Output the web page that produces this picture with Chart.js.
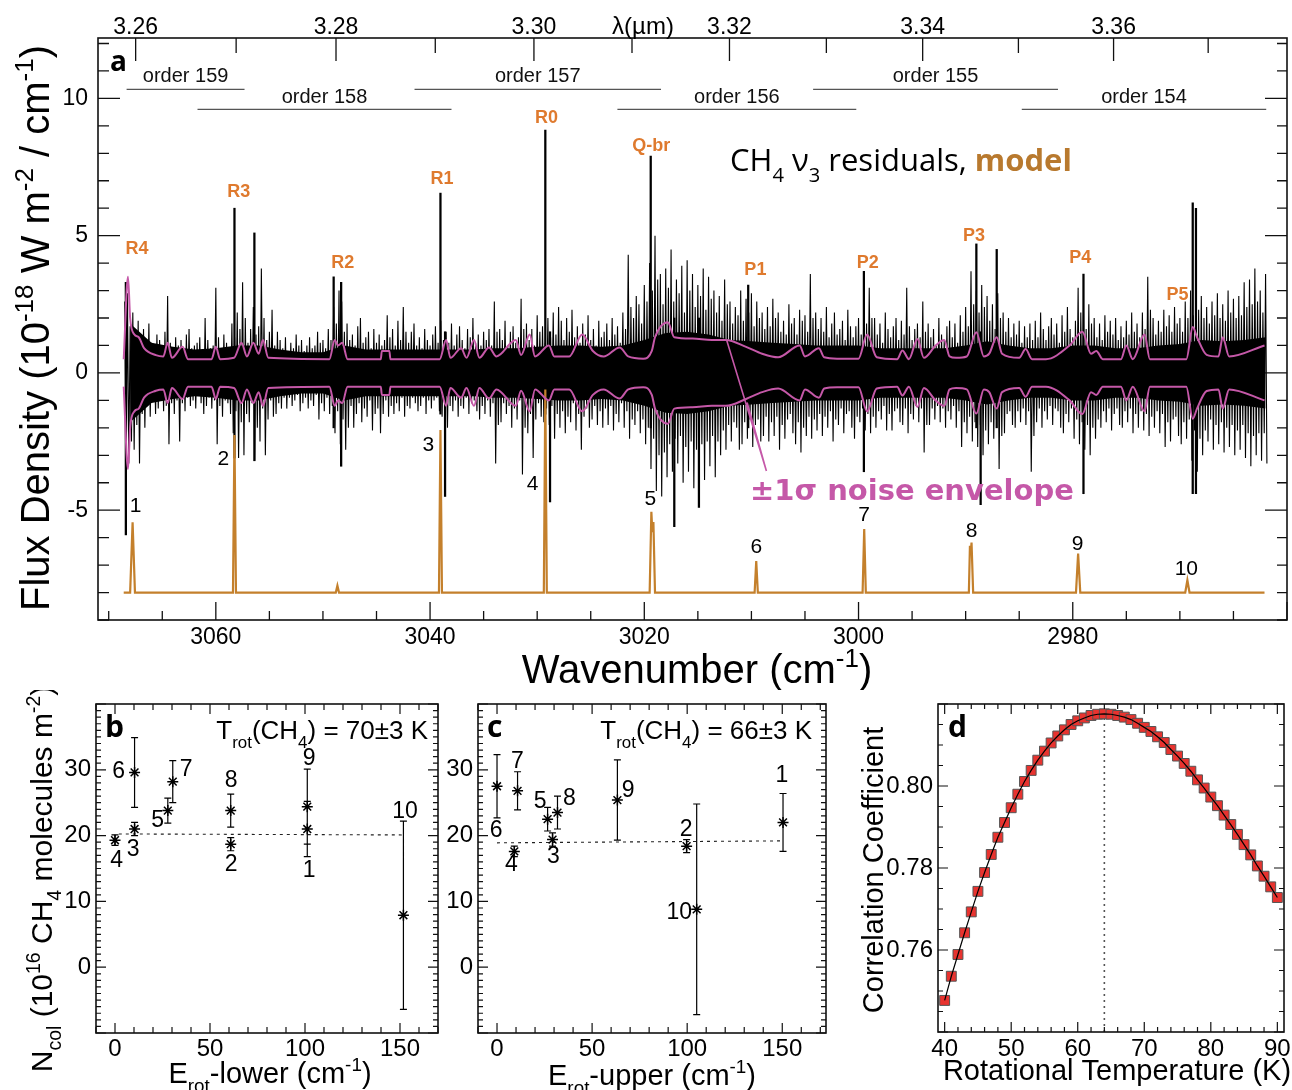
<!DOCTYPE html>
<html>
<head>
<meta charset="utf-8">
<script src="https://cdn.jsdelivr.net/npm/chart.js@4.4.1/dist/chart.umd.min.js"></script>
<style>
html, body { margin: 0; padding: 0; background: #fff; }
#wrap { position: relative; width: 1292px; height: 1090px; overflow: hidden; }
#wrap canvas { position: absolute; }
</style>
</head>
<body>
<div id="wrap">
  <canvas id="specChart" width="1292" height="690" style="left:0px;top:0px"></canvas>
  <canvas id="lowerChart" width="445" height="400" style="left:0px;top:690px"></canvas>
  <canvas id="upperChart" width="400" height="400" style="left:445px;top:690px"></canvas>
  <canvas id="corrChart" width="447" height="400" style="left:845px;top:690px"></canvas>
</div>
<script>
// ---- panel a: residual spectrum (cm-1, 1e-18 W m-2 / cm-1) ----
// residual max / min in 0.25 cm-1 bins, first bin at 3068.5, one row = 5 cm-1
const bandStart = 3068.5, bandStep = 0.25;
const residHi = [
  2.6, 2.9, 1.7, 2.2, 1.4, 1.9, 1.3, 1.6, 1.0, 1.8, 1.1, 0.9, 1.4, 1.2, 0.8, 1.5, 2.8, 1.1, 0.9, 1.3,
  1.0, 1.2, 0.8, 1.4, 1.6, 0.9, 1.0, 1.1, 1.3, 0.8, 2.0, 1.2, 0.9, 1.0, 3.1, 1.3, 0.9, 1.4, 1.1, 0.9,
  1.8, 1.3, 2.2, 1.6, 3.3, 2.0, 1.1, 1.6, 2.4, 1.4, 1.7, 3.8, 2.0, 1.2, 1.5, 2.3, 1.0, 1.5, 1.2, 0.9,
  1.3, 0.8, 1.1, 0.9, 1.4, 1.0, 1.2, 0.8, 1.0, 1.3, 0.9, 1.0, 1.5, 1.1, 1.2, 0.9, 1.6, 1.2, 2.4, 1.8,
  3.0, 2.6, 1.5, 1.8, 1.2, 1.4, 1.0, 1.7, 2.0, 1.1, 1.3, 1.5, 0.9, 1.6, 1.1, 1.4, 1.0, 1.2, 2.1, 1.3,
  1.6, 1.0, 1.9, 1.2, 2.4, 1.5, 1.1, 1.5, 1.8, 1.0, 1.3, 0.9, 1.6, 1.2, 1.0, 1.4, 1.7, 1.1, 1.9, 1.2,
  1.5, 1.1, 1.8, 1.0, 1.4, 1.7, 1.2, 0.9, 1.6, 1.3, 2.0, 1.1, 1.4, 1.0, 1.5, 1.2, 1.6, 1.0, 2.6, 1.5,
  1.6, 1.2, 1.9, 1.0, 1.5, 1.7, 1.1, 1.3, 2.7, 1.6, 1.8, 1.2, 1.6, 1.0, 2.1, 1.5, 1.7, 1.1, 2.0, 1.3,
  2.2, 1.4, 2.4, 1.9, 1.2, 2.0, 1.5, 2.3, 1.3, 1.7, 1.1, 1.8, 1.4, 2.1, 1.2, 1.6, 1.0, 1.9, 1.3, 1.5,
  1.8, 1.2, 2.0, 1.4, 1.7, 1.1, 2.2, 1.6, 4.3, 2.4, 2.0, 2.8, 2.5, 1.8, 3.2, 2.6, 4.0, 3.0, 5.0, 3.4,
  3.6, 2.5, 3.8, 3.1, 4.5, 2.6, 3.4, 2.9, 3.9, 2.2, 4.1, 3.0, 3.6, 2.4, 3.2, 2.8, 3.8, 2.3, 3.5, 2.7,
  3.0, 2.2, 2.8, 1.9, 3.4, 2.5, 2.6, 1.8, 2.4, 2.1, 3.0, 1.9, 2.7, 2.2, 2.9, 1.7, 2.6, 2.0, 2.2, 1.6,
  2.4, 1.7, 2.7, 2.0, 2.2, 1.5, 1.9, 1.4, 2.5, 1.8, 2.0, 1.4, 2.3, 1.9, 2.1, 1.5, 3.6, 2.0, 2.2, 1.6,
  2.0, 1.5, 2.4, 1.3, 1.8, 2.2, 1.4, 1.6, 1.9, 1.2, 2.3, 1.7, 1.3, 1.7, 2.0, 1.4, 2.6, 1.8, 3.1, 2.0,
  2.0, 1.4, 1.8, 1.1, 2.2, 1.6, 1.3, 1.7, 2.0, 1.2, 1.9, 1.4, 3.1, 1.7, 1.2, 1.6, 1.8, 1.3, 2.6, 1.5,
  1.8, 1.3, 1.6, 1.0, 2.0, 1.4, 1.2, 1.7, 1.9, 1.3, 1.8, 1.1, 2.1, 1.5, 2.4, 1.7, 3.7, 2.5, 3.0, 2.2,
  3.2, 2.4, 2.8, 1.9, 2.5, 1.6, 2.9, 2.0, 2.2, 1.5, 2.0, 1.3, 1.8, 1.4, 1.9, 1.1, 1.7, 1.3, 1.8, 1.2,
  1.9, 1.3, 2.2, 1.6, 1.2, 1.7, 2.0, 1.4, 1.8, 1.1, 2.1, 1.5, 2.4, 1.6, 1.3, 1.9, 3.1, 2.2, 2.3, 1.6,
  2.5, 1.8, 2.0, 1.3, 1.8, 1.2, 2.1, 1.5, 1.9, 1.4, 2.0, 1.2, 1.7, 1.3, 1.9, 1.4, 2.2, 1.5, 1.8, 1.3,
  2.2, 1.6, 3.5, 2.3, 2.0, 1.4, 1.9, 1.5, 2.3, 1.7, 2.1, 1.5, 2.4, 1.8, 2.0, 1.5, 2.6, 2.0, 3.0, 2.1,
  3.2, 2.3, 2.8, 2.0, 2.4, 1.8, 2.6, 2.1, 2.9, 2.0, 2.5, 1.9, 3.0, 2.2, 2.7, 2.0, 2.8, 2.1, 3.3, 2.4,
  3.4, 2.5, 3.8, 2.6, 3.0, 2.2, 3.6
];
const residLo = [
  -4.0, -3.3, -2.5, -2.8, -1.9, -3.3, -1.5, -2.0, -1.2, -1.6, -1.0, -1.5, -1.3, -0.9, -1.4, -1.2, -2.6, -1.1, -1.5, -1.0,
  -2.5, -1.1, -1.4, -0.9, -1.2, -1.0, -1.3, -0.8, -1.1, -1.5, -1.2, -0.9, -1.3, -1.0, -2.6, -1.2, -1.6, -1.0, -1.1, -1.5,
  -2.2, -1.4, -3.1, -1.8, -3.0, -1.5, -1.8, -1.1, -3.2, -2.0, -2.5, -1.3, -3.0, -1.7, -1.0, -1.6, -1.5, -1.1, -1.3, -0.9,
  -1.3, -0.9, -1.2, -1.0, -0.8, -1.4, -1.1, -0.9, -1.3, -1.0, -1.2, -0.8, -1.7, -1.1, -1.4, -0.9, -1.5, -1.2, -2.2, -1.4,
  -2.6, -1.7, -2.8, -2.0, -1.2, -2.0, -1.5, -1.1, -1.8, -1.3, -1.6, -1.0, -2.1, -1.5, -1.3, -2.2, -1.5, -1.0, -1.6, -1.2,
  -1.5, -1.1, -1.4, -0.9, -1.6, -1.2, -1.3, -0.9, -1.1, -1.4, -1.2, -0.9, -1.5, -1.0, -1.3, -1.0, -0.9, -1.4, -1.6, -1.2,
  -2.0, -1.2, -1.4, -1.0, -1.6, -1.2, -1.3, -0.9, -1.5, -1.1, -1.0, -1.4, -1.7, -1.2, -1.5, -1.0, -1.6, -1.1, -3.3, -1.9,
  -1.8, -1.1, -1.5, -1.2, -2.0, -1.3, -1.7, -1.0, -3.7, -2.0, -2.2, -1.5, -3.1, -1.7, -1.1, -1.6, -1.8, -1.3, -1.9, -1.2,
  -2.4, -1.5, -2.0, -1.4, -2.2, -1.6, -1.8, -1.1, -2.1, -1.5, -2.8, -1.6, -1.3, -2.0, -1.7, -1.2, -1.9, -1.4, -2.0, -1.3,
  -1.9, -1.2, -2.1, -1.5, -1.8, -1.1, -2.0, -1.4, -2.4, -1.7, -1.9, -1.4, -2.2, -1.7, -2.6, -2.0, -3.5, -2.4, -4.3, -3.0,
  -4.5, -2.9, -3.8, -2.6, -3.6, -2.4, -3.3, -2.3, -4.0, -2.7, -3.6, -2.5, -4.2, -2.8, -3.7, -2.6, -3.9, -2.5, -3.4, -2.3,
  -3.8, -2.5, -3.0, -2.1, -2.8, -1.9, -2.5, -1.8, -2.0, -2.8, -2.6, -1.8, -2.4, -1.7, -2.7, -1.9, -1.7, -2.5, -2.3, -1.6,
  -2.5, -1.8, -2.3, -1.6, -2.8, -1.9, -2.4, -1.7, -1.5, -2.2, -2.6, -1.8, -2.9, -2.0, -2.3, -1.6, -2.4, -1.7, -2.1, -1.5,
  -2.3, -1.6, -2.0, -1.4, -2.5, -1.7, -1.9, -1.3, -2.2, -1.5, -1.4, -2.0, -2.4, -1.6, -1.8, -1.3, -2.1, -1.5, -2.2, -1.6,
  -2.0, -1.4, -1.7, -1.2, -2.1, -1.5, -2.1, -1.4, -1.3, -1.8, -1.9, -1.3, -2.2, -1.5, -1.7, -1.2, -1.8, -1.3, -2.9, -1.9,
  -1.9, -1.3, -1.7, -1.2, -1.8, -1.3, -2.0, -1.4, -1.7, -1.2, -2.0, -1.4, -2.7, -1.8, -2.2, -1.6, -2.5, -1.8, -2.7, -1.9,
  -3.0, -2.1, -2.6, -1.8, -2.4, -1.7, -3.5, -2.3, -2.2, -1.5, -1.4, -1.9, -2.0, -1.4, -1.8, -1.3, -1.9, -1.4, -3.6, -2.3,
  -1.8, -1.3, -2.0, -1.4, -1.7, -1.2, -1.9, -1.3, -1.4, -2.0, -2.2, -1.5, -1.8, -1.3, -2.4, -1.7, -2.6, -1.8, -2.8, -1.9,
  -3.0, -2.0, -2.4, -1.7, -2.0, -1.4, -1.8, -1.3, -2.1, -1.5, -1.3, -1.9, -2.0, -1.4, -1.8, -1.3, -2.2, -1.5, -2.0, -1.4,
  -2.1, -1.5, -2.3, -1.6, -2.0, -1.4, -2.2, -1.5, -2.7, -1.8, -2.5, -1.7, -1.6, -2.3, -2.6, -1.8, -2.4, -1.7, -3.2, -2.1,
  -3.6, -2.4, -3.0, -2.1, -2.5, -1.7, -2.8, -1.9, -2.6, -1.8, -2.9, -2.0, -2.7, -1.9, -3.0, -2.1, -2.8, -1.9, -3.1, -2.2,
  -3.4, -2.3, -3.0, -2.2, -3.2, -2.2, -3.3
];
// solid core of the noise band, half width every 2 cm-1 from 3068
const coreStart = 3068, coreStep = 2;
const coreAmp = [
  1.8, 1.1, 0.95, 0.85, 0.9, 1.0, 1.0, 0.85, 0.75, 0.75,
  1.0, 0.85, 0.85, 0.85, 0.85, 0.85, 0.85, 0.9, 0.9, 0.95,
  1.0, 1.0, 0.95, 1.0, 1.2, 1.45, 1.5, 1.4, 1.2, 1.15,
  1.1, 1.05, 1.0, 1.0, 1.0, 0.9, 0.9, 0.9, 0.9, 1.0,
  1.15, 1.0, 0.9, 0.9, 1.0, 1.0, 0.9, 0.9, 1.0, 1.05,
  1.2, 1.15, 1.2, 1.3
];
// single tall residual spikes
const spikeNu = [3068.4, 3058.26, 3056.4, 3049.0, 3048.3, 3039.03, 3038.6, 3029.24, 3028.8, 3019.4,
  3017.2, 3014.9, 3010.3, 2999.5, 2989.0, 2988.6, 2987.1, 2979.0, 2968.8, 2968.5];
const spikeHi = [3.3, 6.0, 5.1, 3.5, 3.3, 6.55, 1.5, 8.85, 1.5, 7.9,
  2.0, 2.0, 3.2, 3.7, 4.7, 1.5, 4.5, 3.6, 6.2, 6.0];
const spikeLo = [-5.9, -3.1, -3.2, -2.0, -3.4, -1.5, -4.5, -1.5, -4.7, -2.0,
  -5.6, -4.9, -2.0, -3.6, -2.0, -4.8, -2.0, -4.4, -4.4, -4.4];
// 1 sigma noise envelope [wavenumber, sigma]
const envelope = [
  [3068.6, 0.5], [3068.2, 3.5], [3068.0, 2.0], [3067.6, 1.4], [3067.2, 1.3], [3066.7, 0.9],
  [3065.6, 0.65], [3064.9, 0.6], [3064.5, 1.1], [3064.1, 0.55], [3063.1, 0.95], [3062.6, 0.5],
  [3060.4, 0.5], [3060.0, 0.95], [3059.6, 0.5], [3058.3, 0.55], [3057.6, 1.1], [3057.1, 0.6],
  [3056.5, 1.1], [3056.0, 0.7], [3055.6, 1.2], [3055.1, 0.55], [3049.4, 0.5], [3048.9, 1.2],
  [3048.6, 1.0], [3048.2, 1.1], [3047.7, 0.5], [3044.6, 0.5], [3044.5, 0.8], [3043.8, 0.8],
  [3043.7, 0.5], [3039.1, 0.5], [3038.5, 1.2], [3038.1, 0.55], [3037.1, 0.9], [3036.6, 0.55],
  [3035.9, 1.2], [3035.4, 0.55], [3034.5, 0.93], [3033.8, 0.6], [3032.0, 1.2], [3031.5, 0.65],
  [3030.7, 1.4], [3030.2, 0.6], [3028.9, 1.0], [3028.4, 0.6], [3027.0, 0.6], [3025.8, 1.4],
  [3024.8, 0.8], [3023.8, 0.6], [3022.3, 0.93], [3021.5, 0.6], [3020.1, 0.52], [3019.3, 0.8],
  [3019.0, 1.3], [3017.8, 1.85], [3017.2, 1.3], [3015.5, 1.25], [3013.7, 1.2], [3012.4, 1.2],
  [3010.5, 0.95], [3009.0, 0.7], [3007.5, 0.57], [3005.5, 1.0], [3005.0, 0.6], [3003.7, 0.9],
  [3003.2, 0.57], [3002.0, 0.52], [3000.0, 0.52], [2999.2, 1.4], [2998.3, 0.57], [2996.4, 0.5],
  [2995.9, 0.82], [2995.3, 0.5], [2994.5, 1.24], [2993.9, 0.55], [2992.8, 1.0], [2992.0, 1.2],
  [2991.5, 0.6], [2990.9, 0.55], [2989.9, 0.6], [2989.0, 1.48], [2988.3, 0.6], [2987.8, 0.7],
  [2987.1, 1.3], [2986.6, 0.7], [2985.0, 0.55], [2984.4, 0.87], [2983.8, 0.5], [2982.5, 0.5],
  [2980.3, 1.0], [2979.1, 1.5], [2978.3, 0.7], [2977.8, 0.8], [2977.2, 0.5], [2975.5, 0.5],
  [2975.0, 1.0], [2974.4, 0.5], [2973.3, 1.4], [2972.8, 0.5], [2969.4, 0.5], [2968.8, 1.67],
  [2968.4, 1.3], [2967.5, 0.66], [2966.4, 0.6], [2966.0, 1.3], [2965.4, 0.6], [2962.1, 1.0]
];
// CH4 model, offset to -8 [wavenumber, flux]
const model = [
  [3068.6, -8], [3068.0, -8], [3067.77, -5.44], [3067.55, -8], [3058.4, -8], [3058.26, -2.26],
  [3058.12, -8], [3048.8, -8], [3048.65, -7.75], [3048.5, -8], [3039.17, -8], [3039.03, -2.08],
  [3038.89, -8], [3029.38, -8], [3029.24, -0.6], [3029.1, -8], [3019.5, -8], [3019.34, -5.06],
  [3019.25, -5.8], [3019.15, -5.43], [3019.0, -8], [3009.7, -8], [3009.55, -6.85], [3009.4, -8],
  [2999.62, -8], [2999.47, -5.69], [2999.32, -8], [2989.7, -8], [2989.6, -6.3], [2989.53, -6.6],
  [2989.45, -6.18], [2989.3, -8], [2979.7, -8], [2979.5, -6.58], [2979.3, -8], [2969.5, -8],
  [2969.3, -7.55], [2969.1, -8], [2962.1, -8]
];
const lineNames = ['R4', 'R3', 'R2', 'R1', 'R0', 'Q-br', 'P1', 'P2', 'P3', 'P4', 'P5'];
const lineNu = [3067.35, 3057.86, 3048.16, 3038.88, 3029.14, 3019.36, 3009.63, 2999.15, 2989.22, 2979.3, 2970.22];
const lineLabelY = [4.53, 6.58, 4.02, 7.05, 9.27, 8.25, 3.73, 4.02, 5.0, 4.2, 2.82];
const peakNames = ['1', '2', '3', '4', '5', '6', '7', '8', '9', '10'];
const peakNu = [3067.5, 3059.3, 3040.15, 3030.44, 3019.43, 3009.54, 2999.49, 2989.45, 2979.55, 2969.4];
const peakLabelY = [-4.87, -3.15, -2.62, -4.05, -4.6, -6.36, -5.17, -5.75, -6.24, -7.15];
const orderNames = ['order 159', 'order 158', 'order 157', 'order 156', 'order 155', 'order 154'];
const orderFrom = [3068.33, 3061.71, 3041.45, 3022.51, 3004.24, 2984.76];
const orderTo = [3057.32, 3038.0, 3018.44, 3000.21, 2981.38, 2961.94];
const orderRow = [0, 1, 0, 1, 0, 1];
const waveTicks = [3060, 3040, 3020, 3000, 2980];
const fluxTicks = [-5, 0, 5, 10];
const lambdaTicks = ['3.26', '3.28', '3.30', '3.32', '3.34', '3.36'];
const lambdaMinor = ['3.27', '3.29', '3.31', '3.33', '3.35', '3.37'];

// ---- panels b, c: column density per line ----
const lineIds = ['1', '2', '3', '4', '5', '6', '7', '8', '9', '10'];
const eLower = [101.2, 60.9, 10.3, 0, 27.8, 10.3, 30.4, 60.9, 101.2, 151.8];
const nLower = [21.0, 18.7, 21.0, 19.3, 23.8, 29.6, 28.2, 23.8, 24.4, 7.9];
const nLowerErr = [4.2, 1.0, 1.0, 0.8, 1.9, 5.3, 3.2, 2.5, 5.7, 14.3];
const lowerLabelAt = [[102.2, 14.6], [61.1, 15.6], [9.6, 17.9], [0.9, 16.2], [22.5, 22.2],
  [1.9, 29.7], [37.4, 30.0], [61.1, 28.3], [102.2, 31.7], [152.6, 23.7]];
const lowerFit = [[2, 20.25], [152, 20.1]];
const eUpper = [150.4, 99.7, 29.2, 9.1, 26.6, 0, 10.8, 31.8, 63.3, 105.0];
const nUpper = [22.0, 18.4, 19.4, 17.6, 22.5, 27.5, 26.8, 23.5, 25.4, 8.8];
const nUpperErr = [4.4, 1.0, 1.0, 0.8, 1.8, 4.8, 2.9, 2.5, 6.1, 16.0];
const upperLabelAt = [[149.8, 29.1], [99.4, 20.9], [29.6, 16.8], [7.5, 15.6], [22.7, 25.1],
  [-0.4, 20.7], [10.7, 31.3], [38, 25.6], [69, 26.9], [95.8, 8.3]];
const upperFit = [[0, 18.9], [150.4, 19.2]];
const energyTicks = [0, 50, 100, 150];
const nColTicks = [0, 10, 20, 30];

// ---- panel d: correlation vs rotational temperature ----
const rotTemp = [40, 41, 42, 43, 44, 45, 46, 47, 48, 49, 50, 51, 52, 53, 54, 55, 56, 57, 58, 59,
  60, 61, 62, 63, 64, 65, 66, 67, 68, 69, 70, 71, 72, 73, 74, 75, 76, 77, 78, 79,
  80, 81, 82, 83, 84, 85, 86, 87, 88, 89, 90];
const corrCoef = [0.7477, 0.7536, 0.7589, 0.7642, 0.7693, 0.7743, 0.7789, 0.7833, 0.7875, 0.7911,
  0.7947, 0.7980, 0.8011, 0.8038, 0.8063, 0.8085, 0.8105, 0.8122, 0.8137, 0.8150,
  0.8159, 0.8166, 0.8172, 0.8175, 0.8176, 0.8175, 0.8172, 0.8168, 0.8162, 0.8153,
  0.8143, 0.8133, 0.8120, 0.8106, 0.8089, 0.8073, 0.8055, 0.8036, 0.8015, 0.7995,
  0.7973, 0.7952, 0.7929, 0.7906, 0.7882, 0.7857, 0.7832, 0.7805, 0.7780, 0.7754, 0.7728];
const bestTemp = 64;
const tempTicks = [40, 50, 60, 70, 80, 90];
const corrTicks = [0.76, 0.78, 0.80];

const SANS = "'Liberation Sans', Arial, sans-serif";
const HUMAN = "'Open Sans', 'DejaVu Sans', sans-serif";
const WIDE = "'DejaVu Sans', sans-serif";
const NARROW = "'Liberation Sans Narrow', 'Liberation Sans', sans-serif";
const ORANGE = '#c4802c', LABEL_ORANGE = '#df7a2e', MODEL_TXT = '#b8792e', MAGENTA = '#c558a8';

function fixBox(w, h) {
  return function (scale) {
    if (w !== null) scale.width = w;
    if (h !== null) scale.height = h;
    scale.paddingLeft = scale.paddingRight = scale.paddingTop = scale.paddingBottom = 0;
  };
}

function axisOpts(min, max, vals, w, h, pad, size, fmt) {
  return {
    type: 'linear', min: min, max: max, offset: false,
    grid: { display: false, drawTicks: false }, border: { display: false },
    afterBuildTicks: s => { s.ticks = vals.map(v => ({ value: v })); },
    afterFit: fixBox(w, h),
    ticks: { font: { family: SANS, size: size }, color: '#000', padding: pad, autoSkip: false,
      maxRotation: 0, callback: fmt || (v => String(v)) }
  };
}

function tickSet(lo, hi, step, majorStep) {
  const out = [];
  for (let k = Math.ceil(lo / step - 1e-9); k * step <= hi + 1e-9; k++) {
    const v = +(k * step).toFixed(6);
    const r = v / majorStep;
    out.push([v, Math.abs(r - Math.round(r)) < 1e-6]);
  }
  return out;
}

function drawFrame(chart, o) {
  const { ctx, chartArea: a } = chart;
  const sx = chart.scales.x, sy = chart.scales.y;
  ctx.save();
  ctx.strokeStyle = '#111';
  ctx.lineWidth = o.lw;
  ctx.beginPath();
  o.xt.forEach(([v, maj]) => {
    const p = sx.getPixelForValue(v);
    const len = maj ? o.xMaj : o.xMin;
    ctx.moveTo(p, a.bottom); ctx.lineTo(p, a.bottom - len);
    if (o.xTop) { ctx.moveTo(p, a.top); ctx.lineTo(p, a.top + len); }
  });
  o.yt.forEach(([v, maj]) => {
    const p = sy.getPixelForValue(v);
    ctx.moveTo(a.left, p); ctx.lineTo(a.left + (maj ? o.yMaj : o.yMin), p);
    ctx.moveTo(a.right, p); ctx.lineTo(a.right - (maj ? o.yMajR : o.yMinR), p);
  });
  ctx.stroke();
  ctx.lineWidth = o.frame;
  ctx.strokeRect(a.left, a.top, a.right - a.left, a.bottom - a.top);
  ctx.restore();
}

// text with sub/superscripts: parts = [[text, '' | '^' | '_', color, bold]]
function rich(ctx, parts, x, y, o) {
  const size = o.size, fam = o.family || SANS;
  const sc = o.subScale || 0.65;
  const segs = parts.map(p => {
    const s = p[1] ? size * sc : size;
    const f = ((o.bold || p[3]) ? 'bold ' : '') + s + 'px ' + fam;
    ctx.font = f;
    return { t: p[0], k: p[1] || '', c: p[2], f: f, w: ctx.measureText(p[0]).width };
  });
  const total = segs.reduce((acc, g) => acc + g.w, 0);
  ctx.save();
  ctx.translate(x, y);
  if (o.rotate) ctx.rotate(-Math.PI / 2);
  ctx.textAlign = 'left';
  ctx.textBaseline = 'alphabetic';
  let cx = o.align === 'left' ? 0 : o.align === 'right' ? -total : -total / 2;
  segs.forEach(g => {
    ctx.font = g.f;
    ctx.fillStyle = g.c || o.color || '#000';
    const dy = g.k === '^' ? -size * (o.supRise || 0.4) : g.k === '_' ? size * (o.subDrop || 0.3) : 0;
    ctx.fillText(g.t, cx, dy);
    cx += g.w;
  });
  ctx.restore();
}

const common = {
  responsive: false, animation: false, devicePixelRatio: 1, events: [],
  plugins: { legend: { display: false }, tooltip: { enabled: false } }
};

// ---------------- panel a ----------------
const spectrumDecor = {
  id: 'spectrumDecor',
  afterDraw(chart) {
    const { ctx, chartArea: a, scales: { x, y } } = chart;
    drawFrame(chart, { lw: 1.3, frame: 1.6, xt: tickSet(2960, 3071, 5, 20), xMaj: 18, xMin: 9, xTop: false,
      yt: tickSet(-9, 12.2, 1, 5), yMaj: 22, yMin: 11, yMajR: 22, yMinR: 10 });
    ctx.save();
    ctx.strokeStyle = '#111';
    ctx.lineWidth = 1.3;
    ctx.beginPath();
    lambdaTicks.forEach(l => { const p = x.getPixelForValue(10000 / parseFloat(l)); ctx.moveTo(p, a.top); ctx.lineTo(p, a.top + 23); });
    lambdaMinor.forEach(l => { const p = x.getPixelForValue(10000 / parseFloat(l)); ctx.moveTo(p, a.top); ctx.lineTo(p, a.top + 15); });
    ctx.stroke();

    // echelle orders
    const rowLine = [10.33, 9.6], rowText = [10.6, 9.84];
    ctx.strokeStyle = '#555';
    ctx.lineWidth = 1.4;
    ctx.font = '20px ' + SANS;
    ctx.fillStyle = '#111';
    ctx.textAlign = 'center';
    ctx.textBaseline = 'alphabetic';
    orderNames.forEach((nm, i) => {
      const x0 = x.getPixelForValue(orderFrom[i]), x1 = x.getPixelForValue(orderTo[i]);
      const ly = y.getPixelForValue(rowLine[orderRow[i]]);
      ctx.beginPath(); ctx.moveTo(x0, ly); ctx.lineTo(x1, ly); ctx.stroke();
      ctx.fillText(nm, (x0 + x1) / 2, y.getPixelForValue(rowText[orderRow[i]]));
    });

    // line identifications
    ctx.textBaseline = 'middle';
    ctx.font = 'bold 18px ' + NARROW;
    ctx.fillStyle = LABEL_ORANGE;
    lineNames.forEach((nm, i) => ctx.fillText(nm, x.getPixelForValue(lineNu[i]), y.getPixelForValue(lineLabelY[i])));
    ctx.font = '21px ' + SANS;
    ctx.fillStyle = '#000';
    peakNames.forEach((nm, i) => ctx.fillText(nm, x.getPixelForValue(peakNu[i]), y.getPixelForValue(peakLabelY[i])));

    // leader lines for the envelope label
    ctx.strokeStyle = MAGENTA;
    ctx.lineWidth = 1.6;
    ctx.beginPath();
    const fx = x.getPixelForValue(3008.6), fy = y.getPixelForValue(-3.57);
    ctx.moveTo(fx, fy); ctx.lineTo(x.getPixelForValue(3012.3), y.getPixelForValue(1.18));
    ctx.moveTo(fx, fy); ctx.lineTo(x.getPixelForValue(3010.4), y.getPixelForValue(-1.08));
    ctx.stroke();
    ctx.restore();

    rich(ctx, [['±1σ noise envelope']], 750, 500, { size: 29, family: WIDE, bold: true, color: MAGENTA, align: 'left' });
    rich(ctx, [['CH'], ['4', '_'], [' ν'], ['3', '_'], [' residuals, '], ['model', '', MODEL_TXT, true]], 730, 171,
      { size: 31, family: HUMAN, align: 'left', subDrop: 0.36 });
    rich(ctx, [['a']], 110, 71, { size: 28, family: HUMAN, bold: true, align: 'left' });
    rich(ctx, [['λ(µm)']], 643, 34, { size: 24 });
    rich(ctx, [['Flux Density (10'], ['-18', '^'], [' W m'], ['-2', '^'], [' / cm'], ['-1', '^'], [')']], 49, 328,
      { size: 40, rotate: true });
    rich(ctx, [['Wavenumber (cm'], ['-1', '^'], [')']], 697, 683, { size: 40 });
  }
};

// residual trace: each bin's maximum then its minimum
const residTrace = [];
residHi.forEach((h, i) => {
  const nu = bandStart - i * bandStep;
  residTrace.push({ x: nu, y: h }, { x: nu - bandStep / 2, y: residLo[i] });
});

new Chart(document.getElementById('specChart'), {
  type: 'line',
  data: {
    datasets: [
      { data: envelope.map(p => ({ x: p[0], y: p[1] })), borderColor: MAGENTA, borderWidth: 2, pointRadius: 0,
        cubicInterpolationMode: 'monotone', order: 1 },
      { data: envelope.map(p => ({ x: p[0], y: -p[1] })), borderColor: MAGENTA, borderWidth: 2, pointRadius: 0,
        cubicInterpolationMode: 'monotone', order: 1 },
      { data: model.map(p => ({ x: p[0], y: p[1] })), borderColor: ORANGE, borderWidth: 2.2, pointRadius: 0, order: 2 },
      { type: 'bar', data: spikeNu.map((v, i) => ({ x: v, y: [spikeLo[i], spikeHi[i]] })),
        backgroundColor: '#000', barThickness: 1.6, order: 3 },
      { data: residTrace, borderColor: '#000', borderWidth: 1.1, pointRadius: 0, order: 4 },
      { data: coreAmp.map((v, i) => ({ x: coreStart - i * coreStep, y: v })), borderWidth: 0, pointRadius: 0,
        fill: false, order: 6 },
      { data: coreAmp.map((v, i) => ({ x: coreStart - i * coreStep, y: -v })), borderWidth: 0, pointRadius: 0,
        fill: '-1', backgroundColor: '#000', order: 5 }
    ]
  },
  options: Object.assign({}, common, {
    layout: { padding: { left: 0, right: 5, top: 0, bottom: 0 } },
    scales: {
      x: Object.assign(axisOpts(2960, 3071, waveTicks, null, 70, 4, 23), { position: 'bottom', reverse: true }),
      xTop: {
        type: 'linear', position: 'top', min: 2960, max: 3071, reverse: true, offset: false,
        grid: { display: false, drawTicks: false }, border: { display: false },
        afterBuildTicks: s => { s.ticks = lambdaTicks.map(l => ({ value: 10000 / parseFloat(l) })); },
        afterFit: fixBox(null, 38),
        ticks: { font: { family: SANS, size: 23 }, color: '#000', padding: -3, autoSkip: false, maxRotation: 0,
          callback: (v, i) => lambdaTicks[i] }
      },
      y: axisOpts(-9, 12.2, fluxTicks, 98, null, 10, 23)
    }
  }),
  plugins: [spectrumDecor]
});

// ---------------- panels b and c ----------------
function energyPanel(canvasId, origin, xs, ys, errs, labelAt, fit, xMax, axisW, padRight, texts) {
  const decor = {
    id: 'energyDecor',
    afterDatasetsDraw(chart) {
      const { ctx, scales: { x, y } } = chart;
      ctx.save();
      ctx.strokeStyle = '#000';
      ctx.lineWidth = 1.2;
      ctx.beginPath();
      xs.forEach((v, i) => {
        const px = x.getPixelForValue(v);
        const t = y.getPixelForValue(ys[i] + errs[i]), b = y.getPixelForValue(ys[i] - errs[i]);
        ctx.moveTo(px, t); ctx.lineTo(px, b);
        ctx.moveTo(px - 3.5, t); ctx.lineTo(px + 3.5, t);
        ctx.moveTo(px - 3.5, b); ctx.lineTo(px + 3.5, b);
      });
      ctx.stroke();
      ctx.font = '23px ' + SANS;
      ctx.fillStyle = '#000';
      ctx.textAlign = 'center';
      ctx.textBaseline = 'middle';
      lineIds.forEach((nm, i) => ctx.fillText(nm, x.getPixelForValue(labelAt[i][0]), y.getPixelForValue(labelAt[i][1])));
      ctx.restore();
    },
    afterDraw(chart) {
      drawFrame(chart, { lw: 1.2, frame: 1.6, xt: tickSet(-10, xMax, 10, 50), xMaj: 10, xMin: 6, xTop: true,
        yt: tickSet(-10, 40, 1, 10), yMaj: 10, yMin: 5, yMajR: 10, yMinR: 5 });
      const ctx = chart.ctx;
      ctx.save();
      ctx.translate(-origin[0], -origin[1]);
      texts(ctx);
      ctx.restore();
    }
  };
  return new Chart(document.getElementById(canvasId), {
    type: 'scatter',
    data: {
      datasets: [
        { data: xs.map((v, i) => ({ x: v, y: ys[i] })), pointStyle: 'star', pointRadius: 5.5, pointBorderWidth: 1.5,
          borderColor: '#000', backgroundColor: '#000', order: 1 },
        { type: 'line', data: fit.map(p => ({ x: p[0], y: p[1] })), borderColor: '#222', borderWidth: 1.1,
          borderDash: [3, 4], pointRadius: 0, order: 2 }
      ]
    },
    options: Object.assign({}, common, {
      layout: { padding: { left: 0, right: padRight, top: 14, bottom: 0 } },
      scales: {
        x: axisOpts(-10, xMax, energyTicks, null, 57, 2, 24),
        y: axisOpts(-10, 40, nColTicks, axisW, null, 5, 24)
      }
    }),
    plugins: [decor]
  });
}

energyPanel('lowerChart', [0, 690], eLower, nLower, nLowerErr, lowerLabelAt, lowerFit, 170, 96, 2, ctx => {
  rich(ctx, [['b']], 105, 737, { size: 30, family: HUMAN, bold: true, align: 'left' });
  rich(ctx, [['T'], ['rot', '_'], ['(CH'], ['4', '_'], [') = 70±3 K']], 428, 739, { size: 26, align: 'right', subDrop: 0.35 });
  rich(ctx, [['N'], ['col', '_'], [' (10'], ['16', '^'], [' CH'], ['4', '_'], [' molecules m'], ['-2', '^'], [')']], 52, 879,
    { size: 30, rotate: true });
  rich(ctx, [['E'], ['rot', '_'], ['-lower (cm'], ['-1', '^'], [')']], 270, 1083, { size: 29 });
});

energyPanel('upperChart', [445, 690], eUpper, nUpper, nUpperErr, upperLabelAt, upperFit, 173, 33, 19, ctx => {
  rich(ctx, [['c']], 487, 737, { size: 30, family: HUMAN, bold: true, align: 'left' });
  rich(ctx, [['T'], ['rot', '_'], ['(CH'], ['4', '_'], [') = 66±3 K']], 812, 739, { size: 26, align: 'right', subDrop: 0.35 });
  rich(ctx, [['E'], ['rot', '_'], ['-upper (cm'], ['-1', '^'], [')']], 652, 1085, { size: 29 });
});

// ---------------- panel d ----------------
new Chart(document.getElementById('corrChart'), {
  type: 'scatter',
  data: {
    datasets: [
      { type: 'line', data: rotTemp.map((t, i) => ({ x: t, y: corrCoef[i] })), borderColor: '#000', borderWidth: 1.2,
        pointRadius: 0, order: 1 },
      { data: rotTemp.map((t, i) => ({ x: t, y: corrCoef[i] })), pointStyle: 'rect', pointRadius: 7,
        backgroundColor: '#e8332f', borderColor: '#555', pointBorderWidth: 1, order: 2 },
      { type: 'line', data: [{ x: bestTemp, y: 0.74 }, { x: bestTemp, y: Math.max(...corrCoef) }], borderColor: '#555',
        borderWidth: 1.6, borderDash: [2, 4], pointRadius: 0, order: 3 }
    ]
  },
  options: Object.assign({}, common, {
    layout: { padding: { left: 0, right: 6, top: 14, bottom: 0 } },
    scales: {
      x: axisOpts(39, 91, tempTicks, null, 58, 3, 24),
      y: axisOpts(0.74, 0.82, corrTicks, 93, null, 5, 24, v => v.toFixed(2))
    }
  }),
  plugins: [{
    id: 'corrDecor',
    afterDraw(chart) {
      drawFrame(chart, { lw: 1.2, frame: 1.6, xt: tickSet(39, 91, 2, 10), xMaj: 10, xMin: 5, xTop: true,
        yt: tickSet(0.74, 0.82, 0.005, 0.02), yMaj: 10, yMin: 5, yMajR: 10, yMinR: 5 });
      const ctx = chart.ctx;
      ctx.save();
      ctx.translate(-845, -690);
      rich(ctx, [['d']], 948, 737, { size: 30, family: HUMAN, bold: true, align: 'left' });
      rich(ctx, [['Correlation Coefficient']], 883, 870, { size: 29, rotate: true });
      rich(ctx, [['Rotational Temperature (K)']], 1117, 1080, { size: 29 });
      ctx.restore();
    }
  }]
});
</script>
</body>
</html>
